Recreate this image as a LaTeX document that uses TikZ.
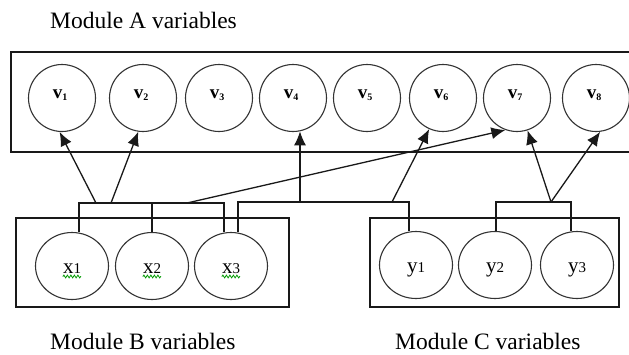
\documentclass[tikz,border=0pt]{standalone}
\usepackage{fontspec}
\setmainfont{Liberation Serif}
\usetikzlibrary{arrows.meta,shapes.geometric,decorations.pathmorphing}
\begin{document}
\begin{tikzpicture}[x=1pt,y=-1pt,
  line/.style={line width=1.3pt, black!90},
  arr/.style={line, -{Latex[length=14pt,width=12pt]}},
  vcirc/.style={circle, draw=black!80, line width=1.1pt, minimum size=67pt, inner sep=0pt},
  ell/.style={ellipse, draw=black!80, line width=1.1pt, minimum width=73pt, minimum height=67pt, inner sep=0pt},
  modbox/.style={draw=black!90, line width=1.3pt},
  vlab/.style={inner sep=0pt, anchor=base, font=\fontsize{19}{19}\selectfont\bfseries},
  xlab/.style={inner sep=0pt, anchor=base, font=\fontsize{21}{21}\selectfont},
  wavy/.style={draw=green!60!black, line width=0.8pt, decorate, decoration={snake, amplitude=1.4pt, segment length=3.5pt}},
  title/.style={inner sep=0pt, anchor=base west, font=\fontsize{23.5}{23.5}\selectfont}]
\useasboundingbox (0,0) rectangle (629,354);
\clip (0,0) rectangle (629,354);

% titles
\node[title] (tA) at (50,28) {Module A variables};
\node[title] (tB) at (50,349) {Module B variables};
\node[title] (tC) at (395,349) {Module C variables};

% module boxes
\draw[modbox] (11,52) rectangle (640,152);
\draw[modbox] (16,218) rectangle (289,307);
\draw[modbox] (370,218) rectangle (619,307);

% module A variables
\foreach \i/\x in {1/62,2/143,3/219,4/293,5/367,6/443,7/517,8/596} {
  \node[vcirc] (v\i) at (\x,98) {};
  \node[vlab] (lv\i) at (\x-2,98) {v\raisebox{-2pt}{\fontsize{10}{10}\selectfont\i}};
}

% module B variables
\foreach \i/\x in {1/72,2/152,3/231} {
  \node[ell] (x\i) at (\x,266) {};
  \node[xlab] (lx\i) at (\x,273) {x{\fontsize{15}{15}\selectfont\i}};
  \draw[wavy] ([yshift=-3.5pt]lx\i.base west) -- ([yshift=-3.5pt]lx\i.base east);
}

% module C variables
\foreach \i/\x in {1/416,2/495,3/577} {
  \node[ell] (y\i) at (\x,265) {};
  \node[xlab] (ly\i) at (\x,272) {y{\fontsize{15}{15}\selectfont\i}};
}

% bracket over x1,x2,x3
\coordinate (bL) at (79,203);
\coordinate (bR) at (224,203);
\draw[line] (x1.north -| bL) -- (bL) -- (bR) -- (x3.north -| bR);
\draw[line] (x2.north) -- (x2.north |- bL);
\coordinate (a1) at (96,203);
\coordinate (a2) at (111,203);
\coordinate (a3) at (187,203);
\draw[arr] (a1) -- (v1.266);
\draw[arr] (a2) -- (v2.262);
\draw[arr] (a3) -- (v7.250);

% bracket over x3,y1
\coordinate (cL) at (238,202);
\coordinate (cR) at (409,202);
\draw[line] (x3.north -| cL) -- (cL) -- (cR) -- (y1.north -| cR);
\coordinate (a4) at (300,202);
\coordinate (a5) at (392,202);
\draw[arr] (a4) -- (a4 |- v4.282);
\draw[arr] (a5) -- (v6.246);

% bracket over y2,y3
\coordinate (dL) at (496,202);
\coordinate (dR) at (571,202);
\draw[line] (y2.north -| dL) -- (dL) -- (dR) -- (y3.north -| dR);
\coordinate (a6) at (551,202);
\draw[arr] (a6) -- (v7.288);
\draw[arr] (a6) -- (v8.277);
\end{tikzpicture}
\end{document}
